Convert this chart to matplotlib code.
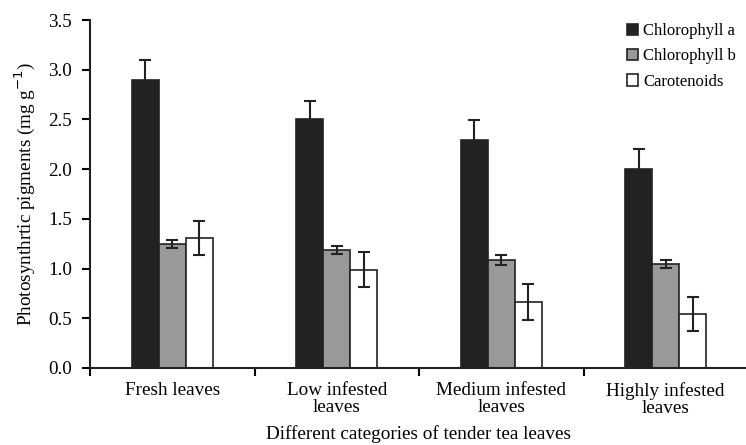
import matplotlib
matplotlib.use("Agg")
import matplotlib.pyplot as plt
import numpy as np
from matplotlib.patches import Patch

categories = ["Fresh leaves", "Low infested\nleaves", "Medium infested\nleaves", "Highly infested\nleaves"]
series_names = ["Chlorophyll a", "Chlorophyll b", "Carotenoids"]
chl_a = [2.90, 2.50, 2.29, 2.00]
chl_a_err = [0.20, 0.19, 0.20, 0.20]
chl_b = [1.25, 1.19, 1.09, 1.05]
chl_b_err = [0.04, 0.04, 0.05, 0.04]
carot = [1.31, 0.99, 0.66, 0.54]
carot_err = [0.17, 0.18, 0.18, 0.17]
yticks = [0.0, 0.5, 1.0, 1.5, 2.0, 2.5, 3.0, 3.5]

plt.rcParams['font.family'] = ['Liberation Serif', 'DejaVu Serif']
FS = 13.8

fig = plt.figure(figsize=(7.46, 4.45), dpi=100)
ax = fig.add_axes([90/746, 1-368/445, 658/746, (368-20)/445])

colors = ['#222222', '#999999', '#ffffff']
vals = [chl_a, chl_b, carot]
errs = [chl_a_err, chl_b_err, carot_err]
x = np.arange(len(categories)) + 0.5
w = 0.165
for i, (v, e, c) in enumerate(zip(vals, errs, colors)):
    ax.bar(x + (i - 1) * w, v, width=w, color=c, edgecolor='#222222', linewidth=1.2, zorder=2)
    ax.errorbar(x + (i - 1) * w, v, yerr=e, fmt='none', ecolor='#222222', elinewidth=1.5,
                capsize=4.6, capthick=1.5, zorder=3)

ax.set_xlim(0, 4.0)
ax.set_ylim(0, 3.5)
ax.set_yticks(yticks)
ax.set_yticklabels([f"{t:.1f}" for t in yticks], fontsize=FS)
ax.set_xticks([0, 1, 2, 3, 4])
ax.set_xticklabels([])
ax.set_xticks(x, minor=True)
ax.set_xticklabels(categories, minor=True, fontsize=FS, linespacing=1.0)
ax.tick_params(axis='x', which='minor', length=0, pad=10)
ax.tick_params(axis='x', which='major', direction='out', length=6, width=1.5)
ax.tick_params(axis='y', direction='out', length=6, width=1.5, pad=7)
for s in ['top', 'right']:
    ax.spines[s].set_visible(False)
for s in ['left', 'bottom']:
    ax.spines[s].set_linewidth(1.5)
    ax.spines[s].set_color('#222222')

ax.set_ylabel("Photosynthrtic pigments (mg g$^{-1}$)", fontsize=FS, labelpad=8)
ax.set_xlabel("Different categories of tender tea leaves", fontsize=FS, labelpad=6)

handles = [Patch(facecolor=c, edgecolor='#222222', linewidth=1.2) for c in colors]
leg = ax.legend(handles, series_names, loc='upper left', bbox_to_anchor=(530/658, 1.01),
                frameon=False, fontsize=12.0, handlelength=0.7, handleheight=0.7,
                handletextpad=0.3, labelspacing=0.55, borderaxespad=0)

fig.savefig("out.png", dpi=100)
